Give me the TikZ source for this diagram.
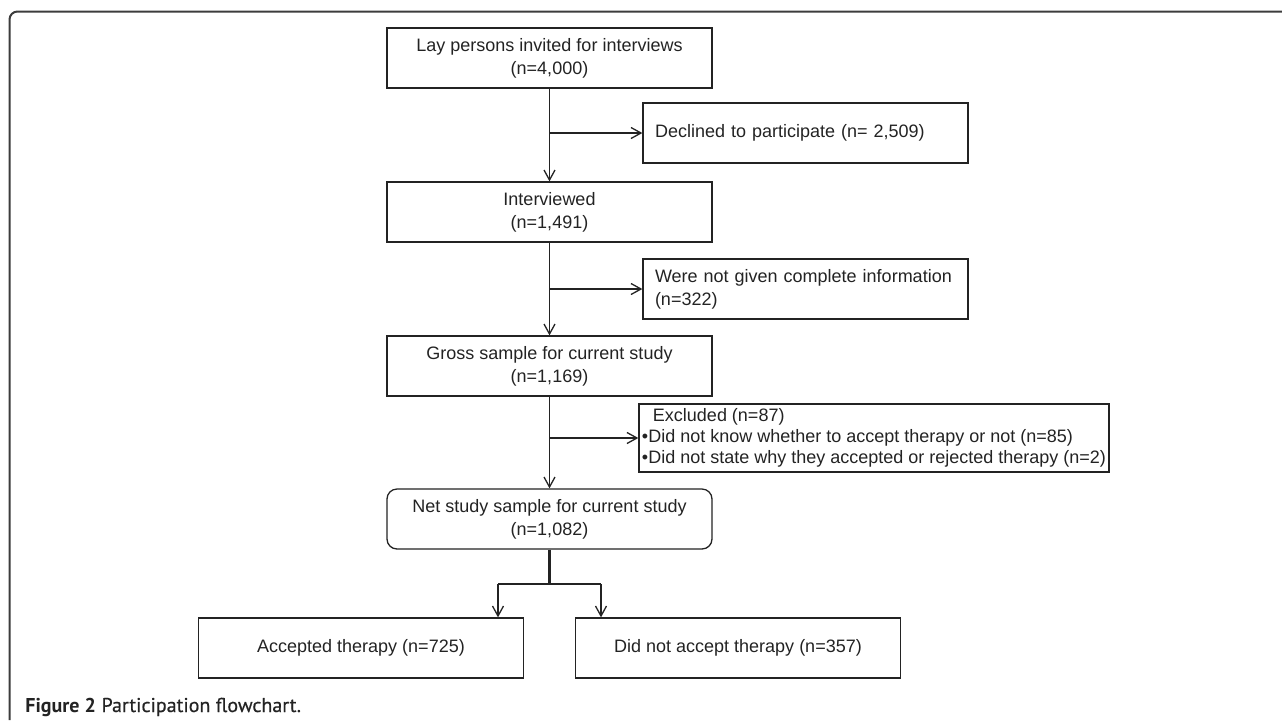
\documentclass[tikz,border=0pt]{standalone}
\usepackage{fontspec}
\setmainfont{Liberation Sans}
\newfontfamily\capfont{PT Sans}
\newfontfamily\capsemi{PT Sans}[FakeBold=0.5]
\usepackage{tikz}
\usetikzlibrary{arrows.meta,positioning}
\usepackage{xcolor}
\definecolor{lineblack}{RGB}{35,35,35}
\definecolor{framegray}{RGB}{60,60,60}
\tikzstyle{stagebox} = [draw=lineblack, line width=0.65pt, minimum width=162.5pt, minimum height=30pt, inner sep=0pt, align=center, text=lineblack]
\tikzstyle{sidebox} = [stagebox, text width=150.5pt, inner xsep=6pt, align=left]
\tikzstyle{arrow} = [line width=0.65pt,->,>={Straight Barb[length=5pt,width=5.5pt]},color=lineblack]

\begin{document}
\begin{tikzpicture}[x=0.5pt, y=-0.5pt, font=\fontsize{9}{11.5}\selectfont]
\useasboundingbox (0,0) rectangle (1282,720);
% Frame
\draw[framegray, line width=1pt, rounded corners=4pt] (9.5,720) -- (9.5,11.5) -- (1282,11.5);

% Main column
\node[stagebox] (invited) at (549.5,58) {Lay persons invited for interviews\\(n=4,000)};
\node[stagebox] (interviewed) at (549.5,212) {Interviewed\\(n=1,491)};
\node[stagebox] (gross) at (549.5,366) {Gross sample for current study\\(n=1,169)};
\node[stagebox, rounded corners=5pt] (net) at (549.5,519) {Net study sample for current study\\(n=1,082)};

% Side boxes
\node[sidebox] (declined) at (805.5,133) {Declined to participate (n= 2,509)};
\node[sidebox] (notgiven) at (805.5,289) {Were not given complete information\\(n=322)};
\node[stagebox, minimum width=231pt, minimum height=34pt, inner xsep=1.5pt, align=left, font=\fontsize{9}{10.6}\selectfont] (excluded) at (874,438)
  {\hspace*{5.5pt}Excluded (n=87)\\\textbullet Did not know whether to accept therapy or not (n=85)\\\textbullet Did not state why they accepted or rejected therapy (n=2)};

% Outcome boxes
\node[stagebox] (accepted) at (361,648) {Accepted therapy (n=725)};
\node[stagebox] (rejected) at (738,648) {Did not accept therapy (n=357)};

% Arrows
\draw[arrow] (invited) -- (interviewed);
\draw[arrow] (interviewed) -- (gross);
\draw[arrow] (gross) -- (net);
\draw[arrow] (invited.south |- declined) -- (declined);
\draw[arrow] (interviewed.south |- notgiven) -- (notgiven);
\draw[arrow] (gross.south |- excluded) -- (excluded);

% Split
\coordinate (fork) at (549.5,584);
\coordinate (forkL) at (498,584);
\coordinate (forkR) at (601,584);
\draw[lineblack, line width=1.1pt] (net) -- (fork);
\draw[lineblack, line width=1.1pt] (forkL) -- (forkR);
\draw[arrow] (forkL) -- (forkL |- accepted.north);
\draw[arrow] (forkR) -- (forkR |- rejected.north);

% Caption
\node[anchor=base west, inner sep=0pt, text=lineblack, font=\fontsize{10}{12}\selectfont] (caption) at (25,712) {{\capfont\bfseries Figure 2} {\capsemi Participation flowchart.}};
\end{tikzpicture}
\end{document}
